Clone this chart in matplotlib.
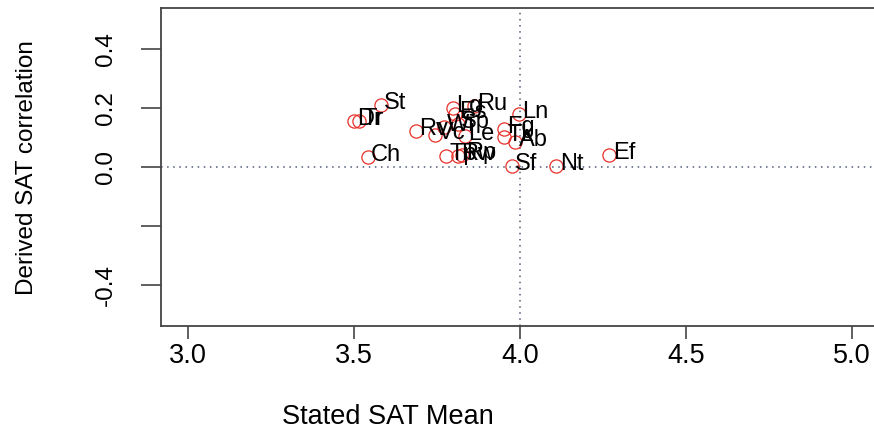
import matplotlib
matplotlib.use("Agg")
import matplotlib.pyplot as plt

labels = ["St", "Dr", "Tr", "Ch", "Rv", "Vc", "Wi", "Lg", "Es", "Sp", "Le", "Ru",
          "Tp", "Rw", "Rp", "Ln", "Fg", "Tk", "Ab", "Sf", "Nt", "Ef"]
stated_mean = [3.581, 3.500, 3.517, 3.542, 3.688, 3.744, 3.771, 3.799, 3.806, 3.813,
               3.834, 3.862, 3.779, 3.813, 3.827, 3.997, 3.952, 3.952, 3.987, 3.976,
               4.110, 4.269]
derived_corr = [0.210, 0.157, 0.157, 0.035, 0.123, 0.108, 0.137, 0.202, 0.182, 0.148,
                0.105, 0.207, 0.038, 0.038, 0.040, 0.182, 0.128, 0.103, 0.086, 0.004,
                0.004, 0.041]
xticks = [3.0, 3.5, 4.0, 4.5, 5.0]
yticks = [-0.4, -0.2, 0.0, 0.2, 0.4]
ytick_labels = ["-0.4", "", "0.0", "0.2", "0.4"]

plt.rcParams['font.family'] = ['Liberation Sans', 'DejaVu Sans']

fig = plt.figure(figsize=(8.74, 4.44), dpi=100)
ax = fig.add_axes([161/874, 1-326/444, (878.6-161)/874, (326-8.3)/444])

ax.axvline(4.0, color='#4f5a78', linestyle=(0, (1, 3)), linewidth=1.1, zorder=1)
ax.axhline(0.0, color='#4f5a78', linestyle=(0, (1, 3)), linewidth=1.1, zorder=1)

ax.plot(stated_mean, derived_corr, linestyle='none', marker='o', markersize=9.5,
        markerfacecolor='none', markeredgecolor='#e8302a', markeredgewidth=0.9, zorder=2)
for lab, xv, yv in zip(labels, stated_mean, derived_corr):
    ax.annotate(lab, (xv, yv), xytext=(2.5, 1.5), textcoords='offset points',
                ha='left', va='center', fontsize=17, color='black', zorder=3)

ax.set_xlim(2.92, 5.08)
ax.set_ylim(-0.54, 0.54)
ax.set_xticks(xticks)
ax.set_xticklabels([f"{t:.1f}" for t in xticks], fontsize=19.5)
ax.set_yticks(yticks)
ax.set_yticklabels(ytick_labels, fontsize=17.5, rotation=90, va='center')
ax.tick_params(axis='x', direction='out', length=9.5, width=1.2, pad=3, color='#444444')
ax.tick_params(axis='y', direction='out', length=14.5, width=1.2, pad=17, color='#444444')
for s in ax.spines.values():
    s.set_color('#444444')
    s.set_linewidth(1.3)

fig.text(388/874, 1-417/444, "Stated SAT Mean", ha='center', va='center', fontsize=19.5)
fig.text(27/874, 1-168/444, "Derived SAT correlation", ha='center', va='center',
         fontsize=17.5, rotation=90)

fig.savefig("out.png", dpi=100)
